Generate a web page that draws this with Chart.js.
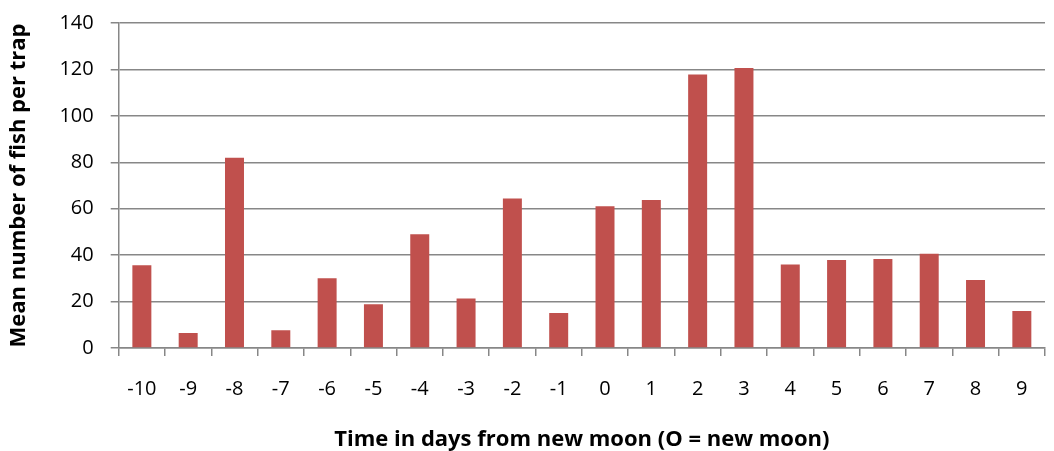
<!DOCTYPE html>
<html>
<head>
<meta charset="utf-8">
<script src="https://cdn.jsdelivr.net/npm/chart.js@4"></script>
<style>
  html, body { margin: 0; padding: 0; background: #fff; }
  #wrap { width: 1054px; height: 451px; }
</style>
</head>
<body>
<div id="wrap"><canvas id="myChart"></canvas></div>
<script>
// days relative to new moon
const days = ['-10', '-9', '-8', '-7', '-6', '-5', '-4', '-3', '-2', '-1', '0', '1', '2', '3', '4', '5', '6', '7', '8', '9'];
// mean fish per trap
const fishPerTrap = [35.6, 6.5, 82, 7.6, 30.1, 18.9, 49, 21.3, 64.4, 15.1, 61.1, 63.8, 117.8, 120.6, 36, 37.9, 38.3, 40.6, 29.3, 15.9];
const yTicks = [0, 20, 40, 60, 80, 100, 120, 140];

const gridGrey = '#878787';
const font = "'Open Sans', 'Liberation Sans', sans-serif";

const ctx = document.getElementById('myChart');

new Chart(ctx, {
  type: 'bar',
  data: {
    labels: days,
    datasets: [{
      label: 'Mean number of fish per trap',
      data: fishPerTrap,
      backgroundColor: '#c0504d',
      borderWidth: 0,
      categoryPercentage: 1,
      barPercentage: 0.41
    }]
  },
  options: {
    responsive: true,
    maintainAspectRatio: false,
    animation: false,
    layout: { padding: { top: 12, right: 9, left: 6, bottom: 0 } },
    plugins: {
      legend: { display: false },
      tooltip: { enabled: false }
    },
    scales: {
      x: {
        grid: {
          drawOnChartArea: false,
          drawTicks: true,
          tickLength: 8,
          color: gridGrey,
          lineWidth: 1.5
        },
        border: { color: gridGrey, width: 1.5 },
        ticks: {
          color: '#000',
          font: { family: font, size: 20 },
          padding: 21,
          maxRotation: 0
        },
        title: {
          display: true,
          text: 'Time in days from new moon (O = new moon)',
          color: '#000',
          font: { family: font, size: 22, weight: 'bold', lineHeight: 1.0 },
          padding: { top: 7, bottom: 0 }
        }
      },
      y: {
        min: 0,
        max: 140,
        afterBuildTicks: axis => {
          axis.ticks = yTicks.map(v => ({ value: v }));
        },
        grid: {
          color: gridGrey,
          lineWidth: 1.5,
          tickLength: 8
        },
        border: { color: gridGrey, width: 1.5 },
        ticks: {
          color: '#000',
          font: { family: font, size: 20, lineHeight: 0.6 },
          padding: 17
        },
        title: {
          display: true,
          text: 'Mean number of fish per trap',
          color: '#000',
          font: { family: font, size: 22, weight: 'bold' },
          padding: { top: 0, bottom: 10 }
        }
      }
    }
  }
});
</script>
</body>
</html>
